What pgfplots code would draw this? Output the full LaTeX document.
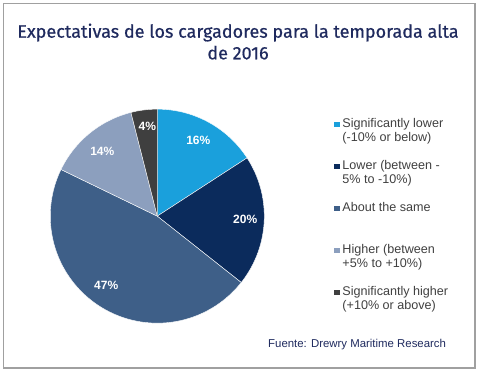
\documentclass[border=0pt]{standalone}
\usepackage{pgfplots}
\pgfplotsset{compat=1.18}
\usepackage{pgfplotstable}
\usepackage{fontspec}
\setmainfont{Liberation Sans}
\newfontfamily\titlefont[FakeBold=0.6]{Fira Sans}
\definecolor{titlec}{HTML}{1F2A5E}
\definecolor{cA}{HTML}{1AA0DC}
\definecolor{cB}{HTML}{0B2B5C}
\definecolor{cC}{HTML}{3E5F88}
\definecolor{cD}{HTML}{8C9FBE}
\definecolor{cE}{HTML}{3F3F3F}
\definecolor{legc}{HTML}{404040}
\definecolor{framec}{HTML}{A0A0A0}
\pgfplotstableread{
val
16
20
47
14
4
}\piedata
\begin{document}%
\begin{tikzpicture}[x=1pt,y=1pt]
\pgfplotstablegetelem{0}{val}\of\piedata \pgfmathsetmacro\va{\pgfplotsretval}
\pgfplotstablegetelem{1}{val}\of\piedata \pgfmathsetmacro\vb{\pgfplotsretval}
\pgfplotstablegetelem{2}{val}\of\piedata \pgfmathsetmacro\vc{\pgfplotsretval}
\pgfplotstablegetelem{3}{val}\of\piedata \pgfmathsetmacro\vd{\pgfplotsretval}
\pgfplotstablegetelem{4}{val}\of\piedata \pgfmathsetmacro\ve{\pgfplotsretval}
\pgfmathsetmacro\tot{\va+\vb+\vc+\vd+\ve}
\pgfmathsetmacro\aA{90}
\pgfmathsetmacro\aB{90-360*(\va/\tot)}
\pgfmathsetmacro\aC{90-360*((\va+\vb)/\tot)}
\pgfmathsetmacro\aD{90-360*((\va+\vb+\vc)/\tot)}
\pgfmathsetmacro\aE{90-360*((\va+\vb+\vc+\vd)/\tot)}
\pgfmathsetmacro\aF{-270}
\path (0,0) rectangle (480,-375);
\draw[framec, line width=1.5pt] (3.5,-3.5) rectangle (475,-368);
\node[anchor=base, font=\titlefont\fontsize{18}{22}\selectfont, text=titlec, inner sep=0pt] at (238,-37.7) {Expectativas de los cargadores para la temporada alta};
\node[anchor=base, font=\titlefont\fontsize{18}{22}\selectfont, text=titlec, inner sep=0pt] at (238,-59.3) {de 2016};
\node[anchor=base west, font=\fontsize{11.4}{13}\selectfont, text=titlec, inner sep=0pt] at (268,-347) {Fuente: Drewry Maritime Research};
\begin{axis}[
  at={(147,-202)}, anchor=origin,
  scale only axis, width=214pt, height=214pt,
  xmin=-1, xmax=1, ymin=-1, ymax=1,
  hide axis, clip=false,
  legend image code/.code={\fill[#1,draw=none] (0pt,0pt) rectangle (5.5pt,5.5pt);},
  legend style={draw=none, fill=none, at={(1.327,0.958)}, anchor=north west,
    font=\fontsize{12.6}{13}\selectfont, text=legc, inner sep=0pt, row sep=0pt,
    nodes={inner sep=0pt, anchor=base west, text height=9pt, text depth=5pt},
    /tikz/every odd column/.append style={column sep=2.5pt}},
  legend cell align=left,
]
\addplot[fill=cA, draw=white, line width=0.4pt, domain=\aB:\aA, samples=60, variable=\t] ({cos(\t)},{sin(\t)}) -- (axis cs:0,0) -- cycle;
\addlegendentry{Significantly lower}
\addlegendimage{empty legend}\addlegendentry{(-10\% or below)}
\addlegendimage{empty legend}\addlegendentry{}
\addplot[fill=cB, draw=white, line width=0.4pt, domain=\aC:\aB, samples=60, variable=\t] ({cos(\t)},{sin(\t)}) -- (axis cs:0,0) -- cycle;
\addlegendentry{Lower (between -}
\addlegendimage{empty legend}\addlegendentry{5\% to -10\%)}
\addlegendimage{empty legend}\addlegendentry{}
\addplot[fill=cC, draw=white, line width=0.4pt, domain=\aD:\aC, samples=100, variable=\t] ({cos(\t)},{sin(\t)}) -- (axis cs:0,0) -- cycle;
\addlegendentry{About the same}
\addlegendimage{empty legend}\addlegendentry{}
\addlegendimage{empty legend}\addlegendentry{}
\addplot[fill=cD, draw=white, line width=0.4pt, domain=\aE:\aD, samples=60, variable=\t] ({cos(\t)},{sin(\t)}) -- (axis cs:0,0) -- cycle;
\addlegendentry{Higher (between}
\addlegendimage{empty legend}\addlegendentry{+5\% to +10\%)}
\addlegendimage{empty legend}\addlegendentry{}
\addplot[fill=cE, draw=white, line width=0.4pt, domain=\aF:\aE, samples=30, variable=\t] ({cos(\t)},{sin(\t)}) -- (axis cs:0,0) -- cycle;
\addlegendentry{Significantly higher}
\addlegendimage{empty legend}\addlegendentry{(+10\% or above)}
\begin{scope}[every node/.style={font=\bfseries\fontsize{12}{14}\selectfont, text=white, inner sep=0pt}]
\node at (axis cs:0.383,0.710) {16\%};
\node at (axis cs:0.822,-0.028) {20\%};
\node at (axis cs:-0.477,-0.645) {47\%};
\node at (axis cs:-0.514,0.607) {14\%};
\node at (axis cs:-0.093,0.841) {4\%};
\end{scope}
\end{axis}
\end{tikzpicture}%
\end{document}
